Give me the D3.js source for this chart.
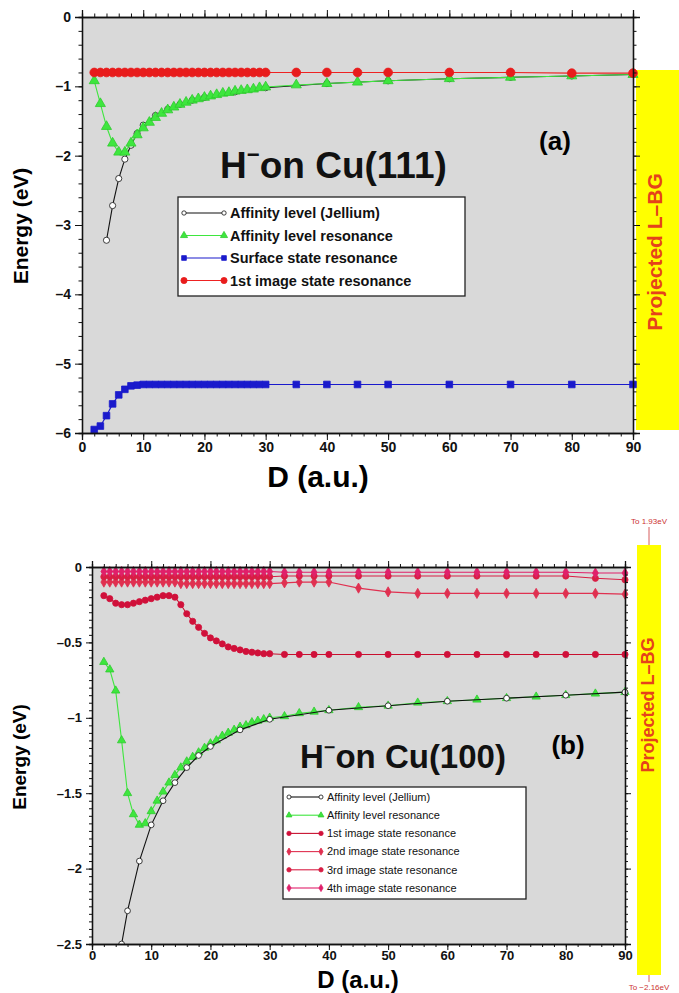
<!DOCTYPE html>
<html>
<head>
<meta charset="utf-8">
<script src="https://cdn.jsdelivr.net/npm/d3@7"></script>
<style>
  body { margin: 0; background: #fff; }
  svg { display: block; font-family: "Liberation Sans", Arial, sans-serif; }
</style>
</head>
<body>
<div id="chart"></div>
<script>
// ---- data, panel (a) H- on Cu(111) ----
var dA = [2,3,4,5,6,7,8,9,10,11,12,13,14,15,16,17,18,19,20,21,22,23,24,25,26,27,28,29,30,35,40,45,50,60,70,80,90];
var aImage1 = [-0.8,-0.8,-0.8,-0.8,-0.8,-0.8,-0.8,-0.8,-0.8,-0.8,-0.8,-0.8,-0.8,-0.8,-0.8,-0.8,-0.8,-0.8,-0.8,-0.8,-0.8,-0.8,-0.8,-0.8,-0.8,-0.8,-0.8,-0.8,-0.8,-0.8,-0.8,-0.8,-0.8,-0.8,-0.8,-0.81,-0.81];
var aAffRes = [-0.92,-1.25,-1.58,-1.82,-1.95,-1.95,-1.82,-1.70,-1.60,-1.52,-1.45,-1.39,-1.34,-1.30,-1.26,-1.23,-1.20,-1.18,-1.16,-1.14,-1.12,-1.10,-1.09,-1.07,-1.06,-1.05,-1.04,-1.02,-1.01,-0.98,-0.96,-0.94,-0.92,-0.89,-0.87,-0.85,-0.83];
var aSurface = [-5.95,-5.90,-5.75,-5.58,-5.45,-5.37,-5.32,-5.31,-5.3,-5.3,-5.3,-5.3,-5.3,-5.3,-5.3,-5.3,-5.3,-5.3,-5.3,-5.3,-5.3,-5.3,-5.3,-5.3,-5.3,-5.3,-5.3,-5.3,-5.3,-5.3,-5.3,-5.3,-5.3,-5.3,-5.3,-5.3,-5.3];
var dAJel = [4,5,6,7,8,9,10,12,14,16,18,20,25,30,40,50,60,70,80,90];
var aJellium = [-3.22,-2.72,-2.33,-2.05,-1.85,-1.68,-1.56,-1.42,-1.33,-1.26,-1.20,-1.16,-1.08,-1.02,-0.96,-0.92,-0.89,-0.87,-0.85,-0.83];

// ---- data, panel (b) H- on Cu(100) ----
var dB = [2,3,4,5,6,7,8,9,10,11,12,13,14,15,16,17,18,19,20,21,22,23,24,25,26,27,28,29,30,32.5,35,37.5,40,45,50,55,60,65,70,75,80,85,90];
var bAffRes = [-0.63,-0.68,-0.82,-1.15,-1.50,-1.64,-1.71,-1.70,-1.62,-1.55,-1.49,-1.43,-1.38,-1.33,-1.29,-1.26,-1.23,-1.20,-1.17,-1.15,-1.12,-1.10,-1.08,-1.06,-1.05,-1.03,-1.02,-1.01,-1.00,-0.99,-0.97,-0.96,-0.95,-0.93,-0.92,-0.90,-0.89,-0.88,-0.87,-0.86,-0.85,-0.84,-0.83];
var bImage1 = [-0.19,-0.21,-0.24,-0.25,-0.25,-0.24,-0.23,-0.22,-0.21,-0.20,-0.19,-0.19,-0.20,-0.25,-0.31,-0.36,-0.40,-0.44,-0.47,-0.49,-0.51,-0.53,-0.54,-0.55,-0.56,-0.565,-0.57,-0.575,-0.575,-0.58,-0.58,-0.58,-0.58,-0.58,-0.58,-0.58,-0.58,-0.58,-0.58,-0.58,-0.58,-0.58,-0.58];
var bImage2 = [-0.10,-0.10,-0.10,-0.10,-0.10,-0.10,-0.10,-0.10,-0.10,-0.10,-0.10,-0.10,-0.10,-0.11,-0.11,-0.11,-0.11,-0.11,-0.11,-0.11,-0.11,-0.11,-0.11,-0.11,-0.11,-0.11,-0.11,-0.11,-0.11,-0.105,-0.10,-0.10,-0.10,-0.14,-0.165,-0.175,-0.175,-0.175,-0.175,-0.175,-0.175,-0.175,-0.18];
var bImage3 = [-0.065,-0.065,-0.065,-0.065,-0.065,-0.065,-0.065,-0.065,-0.065,-0.065,-0.065,-0.065,-0.065,-0.065,-0.065,-0.065,-0.065,-0.065,-0.065,-0.065,-0.065,-0.065,-0.065,-0.065,-0.065,-0.065,-0.065,-0.065,-0.065,-0.06,-0.06,-0.06,-0.06,-0.06,-0.06,-0.06,-0.06,-0.06,-0.06,-0.06,-0.06,-0.075,-0.085];
var bImage4 = [-0.03,-0.03,-0.03,-0.03,-0.03,-0.03,-0.03,-0.03,-0.03,-0.03,-0.03,-0.03,-0.03,-0.03,-0.03,-0.03,-0.03,-0.03,-0.03,-0.03,-0.03,-0.03,-0.03,-0.03,-0.03,-0.03,-0.03,-0.03,-0.03,-0.035,-0.035,-0.035,-0.035,-0.035,-0.035,-0.035,-0.035,-0.035,-0.035,-0.035,-0.035,-0.04,-0.04];
var dBJel = [5,6,8,10,12,14,16,18,20,25,30,40,50,60,70,80,90];
var bJellium = [-2.50,-2.28,-1.95,-1.71,-1.55,-1.43,-1.33,-1.25,-1.19,-1.08,-1.01,-0.95,-0.92,-0.89,-0.87,-0.85,-0.83];

var xTicks = [0,10,20,30,40,50,60,70,80,90];
var aYTicks = [0,-1,-2,-3,-4,-5,-6];
var bYTicks = [0,-0.5,-1,-1.5,-2,-2.5];

var w = 679, h = 993;
var svg = d3.select("#chart").append("svg").attr("width", w).attr("height", h);

function fmt(d) { return d === 0 ? "0" : "\u2013" + Math.abs(d); }

function pts(xs, ys) { return xs.map(function (x, i) { return [x, ys[i]]; }); }

function drawPanel(o) {
  var x = d3.scaleLinear().domain([0, 90]).range([o.left, o.right]);
  var y = d3.scaleLinear().domain(o.yDomain).range([o.bottom, o.top]);
  var g = svg.append("g");

  // plot background
  g.append("rect").attr("x", o.left).attr("y", o.top)
    .attr("width", o.right - o.left).attr("height", o.bottom - o.top)
    .attr("fill", "#d9d9d9");

  // yellow band gap
  g.append("rect").attr("x", o.band.x).attr("y", o.band.y0)
    .attr("width", o.band.w).attr("height", o.band.y1 - o.band.y0)
    .attr("fill", "#ffff00");
  g.append("text")
    .attr("transform", "translate(" + o.band.tx + "," + o.band.ty + ") rotate(-90)")
    .attr("text-anchor", "middle").attr("font-weight", "bold")
    .attr("font-size", o.band.fs).attr("fill", "#e5421b")
    .text("Projected L\u2013BG");

  // series
  var clip = "clip" + o.id;
  g.append("clipPath").attr("id", clip).append("rect")
    .attr("x", o.left).attr("y", o.top - 6).attr("width", o.right - o.left + 6).attr("height", o.bottom - o.top + 6);
  var sg = g.append("g").attr("clip-path", "url(#" + clip + ")");
  var line = d3.line().x(function (d) { return x(d[0]); }).y(function (d) { return y(d[1]); });
  o.series.forEach(function (s) {
    var data = pts(s.xs, s.ys);
    sg.append("path").attr("d", line(data)).attr("fill", "none")
      .attr("stroke", s.line).attr("stroke-width", 1.1);
    sg.selectAll(null).data(data).enter().append("path")
      .attr("transform", function (d) { return "translate(" + x(d[0]) + "," + y(d[1]) + ")"; })
      .attr("d", d3.symbol().type(s.sym).size(s.size))
      .attr("fill", s.fill).attr("stroke", s.stroke).attr("stroke-width", s.sw || 0.8);
  });

  // axes: major + minor ticks on all four sides
  var minorX = d3.range(0, 91, 2);
  var minorY = d3.range(o.yDomain[0], o.yDomain[1] + 1e-9, o.yMinor);
  var tl = o.tick;
  g.append("g").attr("transform", "translate(0," + o.bottom + ")")
    .call(d3.axisBottom(x).tickValues(minorX).tickSize(tl / 2).tickFormat(""));
  g.append("g").attr("transform", "translate(0," + o.bottom + ")")
    .call(d3.axisBottom(x).tickValues(xTicks).tickSize(tl).tickPadding(o.xPad).tickFormat(d3.format("d")))
    .call(function (a) { a.selectAll("text").attr("font-size", o.tickFs).attr("font-weight", "bold").attr("fill", "#111"); });
  g.append("g").attr("transform", "translate(0," + o.top + ")")
    .call(d3.axisTop(x).tickValues(minorX).tickSize(tl / 2).tickFormat(""));
  g.append("g").attr("transform", "translate(0," + o.top + ")")
    .call(d3.axisTop(x).tickValues(xTicks).tickSize(tl).tickFormat(""));
  g.append("g").attr("transform", "translate(" + o.left + ",0)")
    .call(d3.axisLeft(y).tickValues(minorY).tickSize(tl / 2).tickFormat(""));
  g.append("g").attr("transform", "translate(" + o.left + ",0)")
    .call(d3.axisLeft(y).tickValues(o.yTicks).tickSize(tl).tickPadding(4).tickFormat(fmt))
    .call(function (a) { a.selectAll("text").attr("font-size", o.tickFs).attr("font-weight", "bold").attr("fill", "#111"); });
  g.append("g").attr("transform", "translate(" + o.right + ",0)")
    .call(d3.axisRight(y).tickValues(minorY).tickSize(tl / 2).tickFormat(""));
  g.append("g").attr("transform", "translate(" + o.right + ",0)")
    .call(d3.axisRight(y).tickValues(o.yTicks).tickSize(tl).tickFormat(""));
  g.selectAll(".domain").attr("stroke", "#111").attr("stroke-width", 1.3);
  g.selectAll(".tick line").attr("stroke", "#111");

  // axis titles
  g.append("text")
    .attr("transform", "translate(" + o.ylab.x + "," + o.ylab.y + ") rotate(-90)")
    .attr("text-anchor", "middle").attr("font-weight", "bold").attr("font-size", o.ylab.fs)
    .text("Energy (eV)");
  g.append("text").attr("x", o.xlab.x).attr("y", o.xlab.y)
    .attr("text-anchor", "middle").attr("font-weight", "bold").attr("font-size", o.xlab.fs)
    .text("D (a.u.)");

  // panel title
  var t = g.append("text").attr("x", o.title.x).attr("y", o.title.y)
    .attr("font-weight", "bold").attr("font-size", o.title.fs).attr("fill", "#111");
  t.append("tspan").text("H");
  t.append("tspan").attr("dy", -o.title.fs * 0.42).attr("font-size", o.title.fs * 0.6).text("\u2212");
  t.append("tspan").attr("dy", o.title.fs * 0.42).text("on Cu(" + o.title.face + ")");
  g.append("text").attr("x", o.tag.x).attr("y", o.tag.y).attr("text-anchor", "middle")
    .attr("font-weight", "bold").attr("font-size", o.tag.fs).text(o.tag.text);

  // legend
  var L = o.legend;
  g.append("rect").attr("x", L.x).attr("y", L.y).attr("width", L.w).attr("height", L.h)
    .attr("fill", "#fff").attr("stroke", "#222").attr("stroke-width", 1.3);
  o.series.slice().sort(function (a, b) { return a.order - b.order; }).forEach(function (s, i) {
    var yy = L.y + L.pad + i * L.step;
    g.append("line").attr("x1", L.x + 6).attr("x2", L.x + 6 + L.sw)
      .attr("y1", yy).attr("y2", yy).attr("stroke", s.line).attr("stroke-width", 1.1);
    [L.x + 6, L.x + 6 + L.sw].forEach(function (px) {
      g.append("path").attr("transform", "translate(" + px + "," + yy + ")")
        .attr("d", d3.symbol().type(s.sym).size(s.size * 0.5))
        .attr("fill", s.fill).attr("stroke", s.stroke).attr("stroke-width", s.sw || 0.8);
    });
    g.append("text").attr("x", L.x + L.sw + 12).attr("y", yy).attr("dy", "0.35em")
      .attr("font-size", L.fs).attr("font-weight", L.fw).attr("fill", "#111").text(s.name);
  });
}

drawPanel({
  id: "a", left: 82, right: 633, top: 17, bottom: 433,
  yDomain: [-6, 0], yTicks: aYTicks, yMinor: 0.2, tick: 7, tickFs: 14, xPad: 2,
  band: { x: 636, w: 43, y0: 70, y1: 430, tx: 662, ty: 252, fs: 21 },
  ylab: { x: 28, y: 226, fs: 21 }, xlab: { x: 318, y: 487, fs: 30 },
  title: { x: 220, y: 178, fs: 37, face: "111" },
  tag: { x: 555, y: 150, fs: 26, text: "(a)" },
  legend: { x: 178, y: 197, w: 287, h: 99, pad: 16, step: 22.5, sw: 40, fs: 14.5, fw: "bold" },
  series: [
    { name: "Affinity level (Jellium)", order: 0, xs: dAJel, ys: aJellium, line: "#111", sym: d3.symbolCircle, size: 30, fill: "#fff", stroke: "#111" },
    { name: "Affinity level resonance", order: 1, xs: dA, ys: aAffRes, line: "#3ee63e", sym: d3.symbolTriangle, size: 44, fill: "#3ee63e", stroke: "#2fcc2f" },
    { name: "Surface state resonance", order: 2, xs: dA, ys: aSurface, line: "#1a1acc", sym: d3.symbolSquare, size: 44, fill: "#1a1acc", stroke: "#1a1acc" },
    { name: "1st image state resonance", order: 3, xs: dA, ys: aImage1, line: "#ee2222", sym: d3.symbolCircle, size: 60, fill: "#e81c1c", stroke: "#e81c1c" }
  ]
});

drawPanel({
  id: "b", left: 92, right: 625, top: 567, bottom: 944,
  yDomain: [-2.5, 0], yTicks: bYTicks, yMinor: 0.05, tick: 6, tickFs: 13, xPad: 1,
  band: { x: 637, w: 24, y0: 545, y1: 975, tx: 654, ty: 705, fs: 18 },
  ylab: { x: 26, y: 757, fs: 19 }, xlab: { x: 358, y: 988, fs: 24 },
  title: { x: 300, y: 768, fs: 33, face: "100" },
  tag: { x: 568, y: 754, fs: 26, text: "(b)" },
  legend: { x: 283, y: 787, w: 243, h: 112, pad: 10, step: 18.2, sw: 32, fs: 11, fw: "normal" },
  series: [
    { name: "Affinity level resonance", order: 1, xs: dB, ys: bAffRes, line: "#3ee63e", sym: d3.symbolTriangle, size: 30, fill: "#3ee63e", stroke: "#2fcc2f" },
    { name: "Affinity level (Jellium)", order: 0, xs: dBJel, ys: bJellium, line: "#111", sym: d3.symbolCircle, size: 26, fill: "#fff", stroke: "#111" },
    { name: "1st image state resonance", order: 2, xs: dB, ys: bImage1, line: "#c8102e", sym: d3.symbolCircle, size: 30, fill: "#d0103a", stroke: "#d0103a" },
    { name: "2nd image state resonance", order: 3, xs: dB, ys: bImage2, line: "#e03050", sym: d3.symbolDiamond, size: 30, fill: "#e03050", stroke: "#e03050" },
    { name: "3rd image state resonance", order: 4, xs: dB, ys: bImage3, line: "#d81e44", sym: d3.symbolCircle, size: 30, fill: "#d81e44", stroke: "#d81e44" },
    { name: "4th image state resonance", order: 5, xs: dB, ys: bImage4, line: "#e0206a", sym: d3.symbolDiamond, size: 30, fill: "#e0206a", stroke: "#e0206a" }
  ]
});

// band limit notes for panel (b)
svg.append("line").attr("x1", 649).attr("x2", 649).attr("y1", 527).attr("y2", 545).attr("stroke", "#c33").attr("stroke-width", 0.8);
svg.append("line").attr("x1", 649).attr("x2", 649).attr("y1", 975).attr("y2", 982).attr("stroke", "#c33").attr("stroke-width", 0.8);
svg.append("text").attr("x", 649).attr("y", 524).attr("text-anchor", "middle")
  .attr("font-size", 8).attr("fill", "#c33").text("To 1.93eV");
svg.append("text").attr("x", 649).attr("y", 990).attr("text-anchor", "middle")
  .attr("font-size", 8).attr("fill", "#c33").text("To \u22122.16eV");
</script>
</body>
</html>
